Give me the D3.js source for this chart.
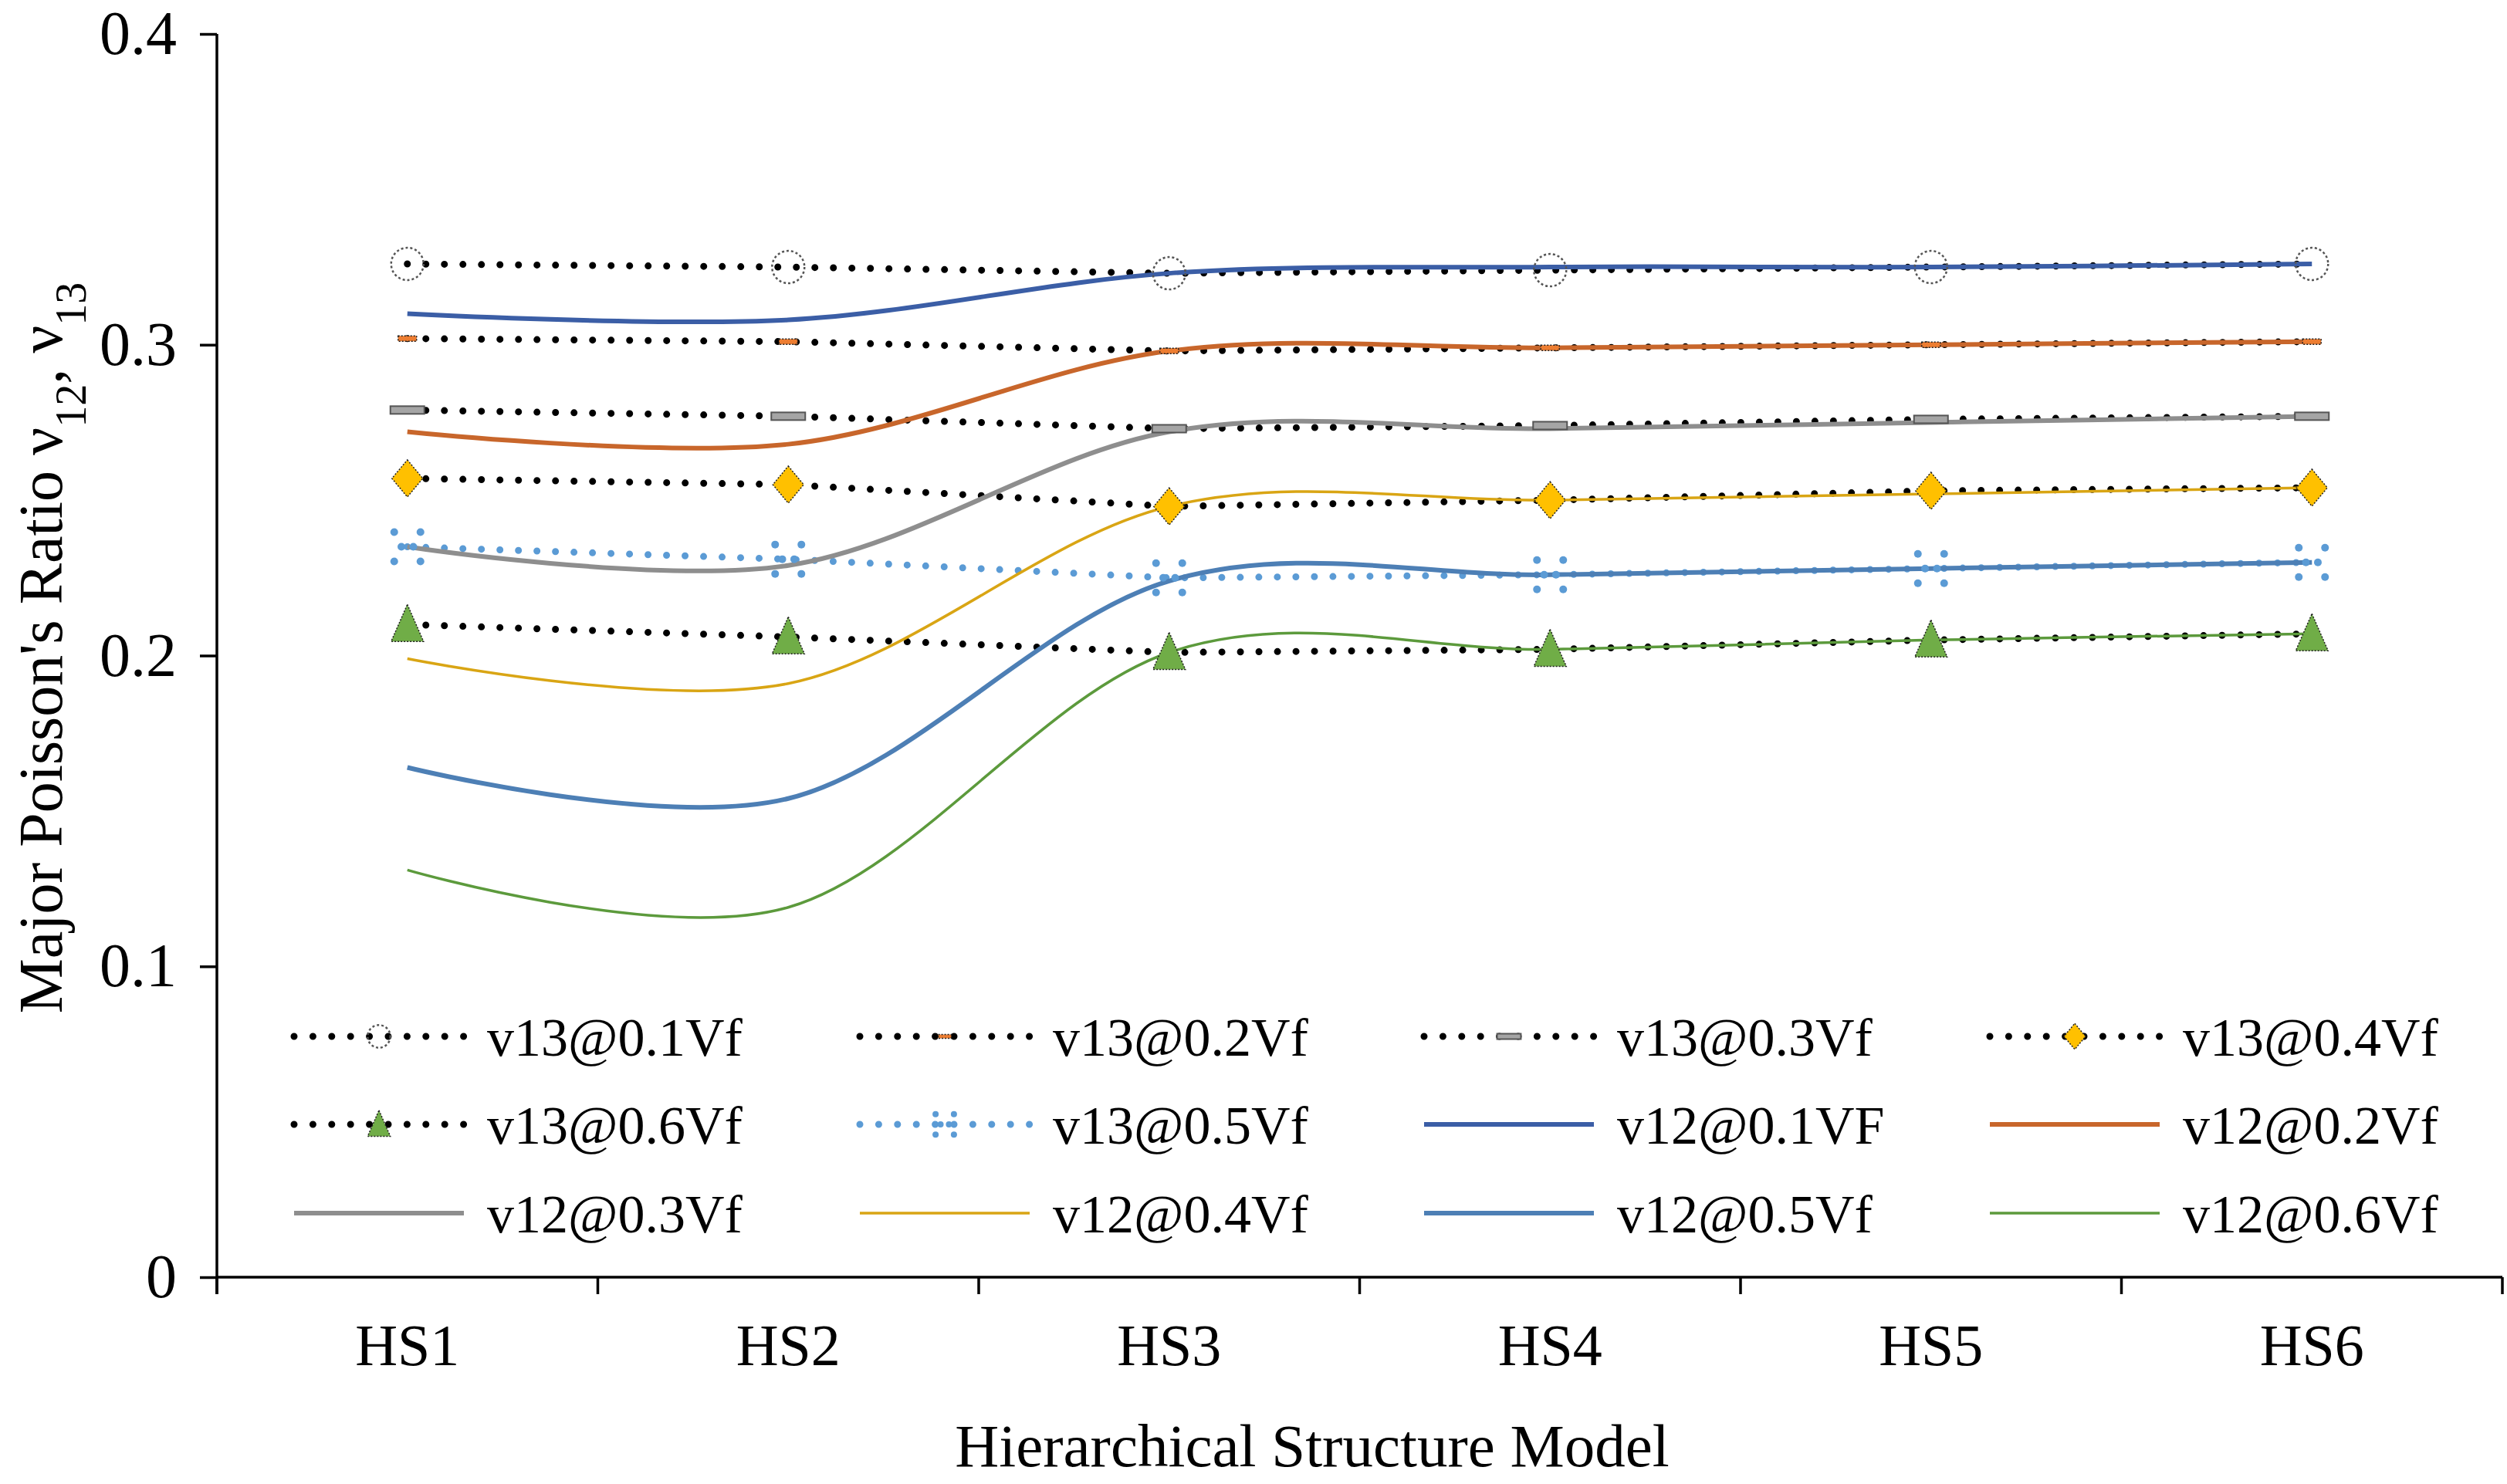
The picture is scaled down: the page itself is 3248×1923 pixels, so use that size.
<!DOCTYPE html>
<html>
<head>
<meta charset="utf-8">
<script src="https://d3js.org/d3.v7.min.js"></script>
<style>
  body { margin: 0; background: #fff; }
  svg { display: block; }
  text { font-family: "Liberation Serif", "Times New Roman", serif; fill: #000; }
</style>
</head>
<body>
<svg id="chart" width="3248" height="1923"></svg>
<script>
// categories + values
const categories = ["HS1", "HS2", "HS3", "HS4", "HS5", "HS6"];
const yTicks = [0, 0.1, 0.2, 0.3, 0.4];

const v13_01 = [0.326, 0.325, 0.323, 0.324, 0.325, 0.326];
const v13_02 = [0.302, 0.301, 0.298, 0.299, 0.300, 0.301];
const v13_03 = [0.279, 0.277, 0.273, 0.274, 0.276, 0.277];
const v13_04 = [0.257, 0.255, 0.248, 0.250, 0.253, 0.254];
const v13_05 = [0.235, 0.231, 0.225, 0.226, 0.228, 0.230];
const v13_06 = [0.210, 0.206, 0.201, 0.202, 0.205, 0.207];

const v12_01 = [0.310, 0.308, 0.323, 0.325, 0.325, 0.326];
const v12_02 = [0.272, 0.268, 0.298, 0.299, 0.300, 0.301];
const v12_03 = [0.235, 0.229, 0.272, 0.273, 0.275, 0.277];
const v12_04 = [0.199, 0.191, 0.248, 0.250, 0.252, 0.254];
const v12_05 = [0.164, 0.154, 0.224, 0.226, 0.228, 0.230];
const v12_06 = [0.131, 0.119, 0.201, 0.202, 0.205, 0.207];

// series: dotted (v13) and smoothed solid (v12)
const v13Series = [
  { name: "v13@0.1Vf", values: v13_01, color: "#000", marker: "circle" },
  { name: "v13@0.2Vf", values: v13_02, color: "#000", marker: "dash" },
  { name: "v13@0.3Vf", values: v13_03, color: "#000", marker: "bar" },
  { name: "v13@0.4Vf", values: v13_04, color: "#000", marker: "diamond" },
  { name: "v13@0.6Vf", values: v13_06, color: "#000", marker: "triangle" },
  { name: "v13@0.5Vf", values: v13_05, color: "#5B9BD5", marker: "cross" }
];
const v12Series = [
  { name: "v12@0.1VF", values: v12_01, color: "#3B5EA6", width: 6 },
  { name: "v12@0.2Vf", values: v12_02, color: "#C8662B", width: 6 },
  { name: "v12@0.3Vf", values: v12_03, color: "#8E8E8E", width: 6 },
  { name: "v12@0.4Vf", values: v12_04, color: "#D9A514", width: 3.5 },
  { name: "v12@0.5Vf", values: v12_05, color: "#4D7FB5", width: 6 },
  { name: "v12@0.6Vf", values: v12_06, color: "#5C9A3C", width: 3.5 }
];

const margin = { left: 281, right: 6, top: 44, bottom: 268 };
const W = 3248, H = 1923;

const svg = d3.select("#chart");

const x = d3.scaleBand()
  .domain(categories)
  .range([margin.left, W - margin.right]);

const y = d3.scaleLinear()
  .domain([0, 0.4])
  .range([H - margin.bottom, margin.top]);

const cx = c => x(c) + x.bandwidth() / 2;

// axes
const yAxis = svg.append("g")
  .attr("transform", `translate(${margin.left},0)`)
  .call(d3.axisLeft(y).tickValues(yTicks).tickSize(22).tickPadding(30)
    .tickFormat(d => d === 0 ? "0" : d3.format(".1f")(d)));
yAxis.select(".domain").attr("stroke", "#000").attr("stroke-width", 3.5)
  .attr("d", `M0,${y(0.4)}V${y(0) + 22}`);
yAxis.selectAll(".tick line").attr("stroke-width", 3.5);
yAxis.selectAll(".tick text").style("font-size", "80px")
  .style("font-family", "Liberation Serif");

const xAxis = svg.append("g")
  .attr("transform", `translate(0,${y(0)})`)
  .call(d3.axisBottom(x).tickSize(0).tickPadding(60));
xAxis.select(".domain").attr("stroke", "#000").attr("stroke-width", 3.5)
  .attr("d", `M${margin.left},0H${W - margin.right}`);
xAxis.selectAll(".tick text").style("font-size", "76px")
  .style("font-family", "Liberation Serif");

// boundary ticks between categories
const bounds = categories.map(c => x(c)).concat([x(categories[categories.length - 1]) + x.bandwidth()]);
svg.append("g").selectAll("line")
  .data(bounds)
  .join("line")
  .attr("x1", d => d).attr("x2", d => d)
  .attr("y1", y(0)).attr("y2", y(0) + 22)
  .attr("stroke", "#000").attr("stroke-width", 3.5);

// axis titles
svg.append("text")
  .attr("x", 1700)
  .attr("y", 1900)
  .attr("text-anchor", "middle")
  .style("font-size", "79px")
  .text("Hierarchical Structure Model");

const yt = svg.append("text")
  .attr("transform", `translate(80,${(y(0) + y(0.4)) / 2 - 10}) rotate(-90)`)
  .attr("text-anchor", "middle")
  .style("font-size", "80px");
yt.append("tspan").text("Major Poisson's Ratio \u03BD");
yt.append("tspan").attr("baseline-shift", "sub").style("font-size", "56px").text("12");
yt.append("tspan").text(", \u03BD");
yt.append("tspan").attr("baseline-shift", "sub").style("font-size", "56px").text("13");

// lines
const dotLine = d3.line()
  .x((d, i) => cx(categories[i]))
  .y(d => y(d));
const smoothLine = d3.line()
  .x((d, i) => cx(categories[i]))
  .y(d => y(d))
  .curve(d3.curveCardinal.tension(0));

const plot = svg.append("g");

plot.selectAll(".v13")
  .data(v13Series)
  .join("path")
  .attr("class", "v13")
  .attr("d", d => dotLine(d.values))
  .attr("fill", "none")
  .attr("stroke", d => d.color)
  .attr("stroke-width", 9)
  .attr("stroke-linecap", "round")
  .attr("stroke-dasharray", "0,24");

plot.selectAll(".v12")
  .data(v12Series)
  .join("path")
  .attr("class", "v12")
  .attr("d", d => smoothLine(d.values))
  .attr("fill", "none")
  .attr("stroke", d => d.color)
  .attr("stroke-width", d => d.width);

// marker drawing
function drawMarker(g, type, s) {
  if (type === "circle") {
    g.append("circle").attr("r", 21 * s)
      .attr("fill", "none").attr("stroke", "#555")
      .attr("stroke-width", 2.5).attr("stroke-dasharray", "3,3");
  } else if (type === "dash") {
    g.append("rect").attr("x", -12 * s).attr("y", -3.5 * s)
      .attr("width", 24 * s).attr("height", 7 * s)
      .attr("fill", "#ED7D31").attr("stroke", "#222")
      .attr("stroke-width", 1.5).attr("stroke-dasharray", "2,2");
  } else if (type === "bar") {
    g.append("rect").attr("x", -22 * s).attr("y", -5 * s)
      .attr("width", 44 * s).attr("height", 10 * s)
      .attr("fill", "#A5A5A5").attr("stroke", "#555")
      .attr("stroke-width", 2);
  } else if (type === "diamond") {
    g.append("path")
      .attr("d", `M0,${-24 * s}L${20 * s},0L0,${24 * s}L${-20 * s},0Z`)
      .attr("fill", "#FFC000").attr("stroke", "#222")
      .attr("stroke-width", 1.5).attr("stroke-dasharray", "2,2");
  } else if (type === "triangle") {
    g.append("path")
      .attr("d", `M0,${-26 * s}L${21 * s},${22 * s}L${-21 * s},${22 * s}Z`)
      .attr("fill", "#70AD47").attr("stroke", "#222")
      .attr("stroke-width", 1.5).attr("stroke-dasharray", "2,2");
  } else if (type === "cross") {
    // dotted "x": dots at the four arm ends plus a pair near the middle
    const a = 17 * s, b = 19 * s;
    const pts = [[-a, -b], [a, -b], [-a, b], [a, b], [-a / 2.2, 0], [a / 2.2, 0]];
    g.selectAll("circle")
      .data(pts)
      .join("circle")
      .attr("cx", p => p[0]).attr("cy", p => p[1])
      .attr("r", 5 * Math.max(s, 0.8))
      .attr("fill", "#5B9BD5");
  }
}

v13Series.forEach(ser => {
  plot.append("g").selectAll("g")
    .data(ser.values)
    .join("g")
    .attr("transform", (d, i) => `translate(${cx(categories[i])},${y(d)})`)
    .each(function () { drawMarker(d3.select(this), ser.marker, 1); });
});

// legend: 4 columns x 3 rows
const legendItems = v13Series.map(d => ({ ...d, kind: "v13" }))
  .concat(v12Series.map(d => ({ ...d, kind: "v12" })));
const colX = [381, 1114, 1845, 2578];
const rowY = [1343, 1457, 1572];
const sampleLen = 220;

const legend = svg.append("g");
legendItems.forEach((d, i) => {
  const gx = colX[i % 4], gy = rowY[Math.floor(i / 4)];
  const g = legend.append("g").attr("transform", `translate(${gx},${gy})`);
  if (d.kind === "v13") {
    g.append("line").attr("x1", 0).attr("x2", sampleLen)
      .attr("stroke", d.color).attr("stroke-width", 9)
      .attr("stroke-linecap", "round").attr("stroke-dasharray", "0,24.4");
    const m = g.append("g").attr("transform", `translate(${sampleLen / 2},0)`);
    drawMarker(m, d.marker, 0.7);
  } else {
    g.append("line").attr("x1", 0).attr("x2", sampleLen)
      .attr("stroke", d.color).attr("stroke-width", d.width);
  }
  g.append("text")
    .attr("x", sampleLen + 30)
    .attr("dy", "0.35em")
    .style("font-size", "70px")
    .text(d.name);
});
</script>
</body>
</html>
